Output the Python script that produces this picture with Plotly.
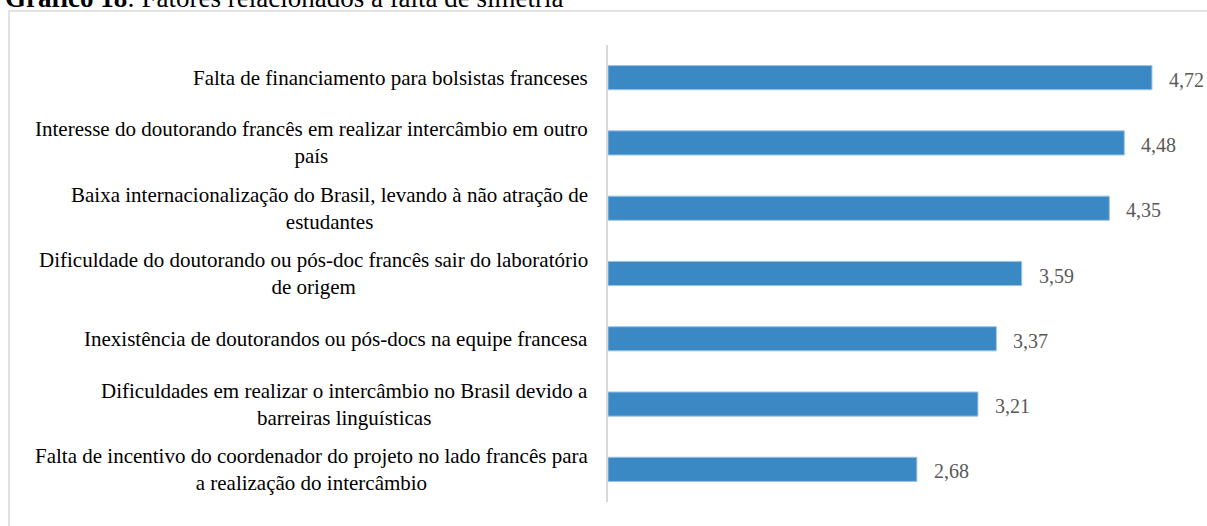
import plotly.graph_objects as go

categories = [
    "Falta de financiamento para bolsistas franceses",
    "Interesse do doutorando francês em realizar intercâmbio em outro<br>país",
    "Baixa internacionalização do Brasil, levando à não atração de<br>estudantes",
    "Dificuldade do doutorando ou pós-doc francês sair do laboratório<br>de origem",
    "Inexistência de doutorandos ou pós-docs na equipe francesa",
    "Dificuldades em realizar o intercâmbio no Brasil devido a<br>barreiras linguísticas",
    "Falta de incentivo do coordenador do projeto no lado francês para<br>a realização do intercâmbio",
]
values = [4.72, 4.48, 4.35, 3.59, 3.37, 3.21, 2.68]
value_labels = ["4,72", "4,48", "4,35", "3,59", "3,37", "3,21", "2,68"]
title_text = "<b>Gráfico 18</b>: Fatores relacionados à falta de simetria"

W, H = 1207, 526
L, R, T, B = 608, 17, 45, 24
PW, PH = W - L - R, H - T - B

def px_x(px):
    return (px - L) / PW

def px_y(py):
    return (H - B - py) / PH

ids = list(range(len(categories)))

fig = go.Figure(go.Bar(
    x=values, y=ids, orientation="h",
    marker=dict(color="#3a89c4", line=dict(color="#9dc3e6", width=1)),
    hoverinfo="skip",
))

annotations = []
for i, (c, v, vl) in enumerate(zip(categories, values, value_labels)):
    annotations.append(dict(
        x=0, xref="paper", y=i, yref="y", text=c, showarrow=False,
        xanchor="right", yanchor="middle", align="center", xshift=-18,
        font=dict(family="Liberation Serif", size=21, color="#000000"),
    ))
    annotations.append(dict(
        x=v, xref="x", y=i, yref="y", text=vl, showarrow=False,
        xanchor="left", yanchor="middle", xshift=15, yshift=-2,
        font=dict(family="Liberation Serif", size=20, color="#595959"),
    ))
annotations.append(dict(
    x=px_x(3), xref="paper", y=px_y(15), yref="paper", text=title_text,
    showarrow=False, xanchor="left", yanchor="bottom", align="left",
    font=dict(family="Liberation Serif", size=27, color="#000000"),
))

fig.update_layout(
    width=W, height=H,
    margin=dict(l=L, r=R, t=T, b=B, pad=0),
    paper_bgcolor="white", plot_bgcolor="white",
    bargap=0.63,
    showlegend=False,
    xaxis=dict(range=[0, 5.05], showgrid=False, zeroline=False,
               showticklabels=False, ticks="", showline=False, fixedrange=True),
    yaxis=dict(range=[len(categories) - 0.5, -0.5], showgrid=False, zeroline=False,
               showticklabels=False, ticks="", showline=True,
               linecolor="#d9d9d9", linewidth=2, fixedrange=True),
    annotations=annotations,
    shapes=[dict(type="rect", xref="paper", yref="paper",
                 x0=px_x(9), x1=px_x(1212), y0=px_y(535), y1=px_y(11),
                 line=dict(color="#d9d9d9", width=1.5), fillcolor="rgba(0,0,0,0)",
                 layer="below")],
)

fig.write_html("out.html", config={"displayModeBar": False},
               post_script="document.body.style.margin='0';document.body.style.overflow='hidden';")
